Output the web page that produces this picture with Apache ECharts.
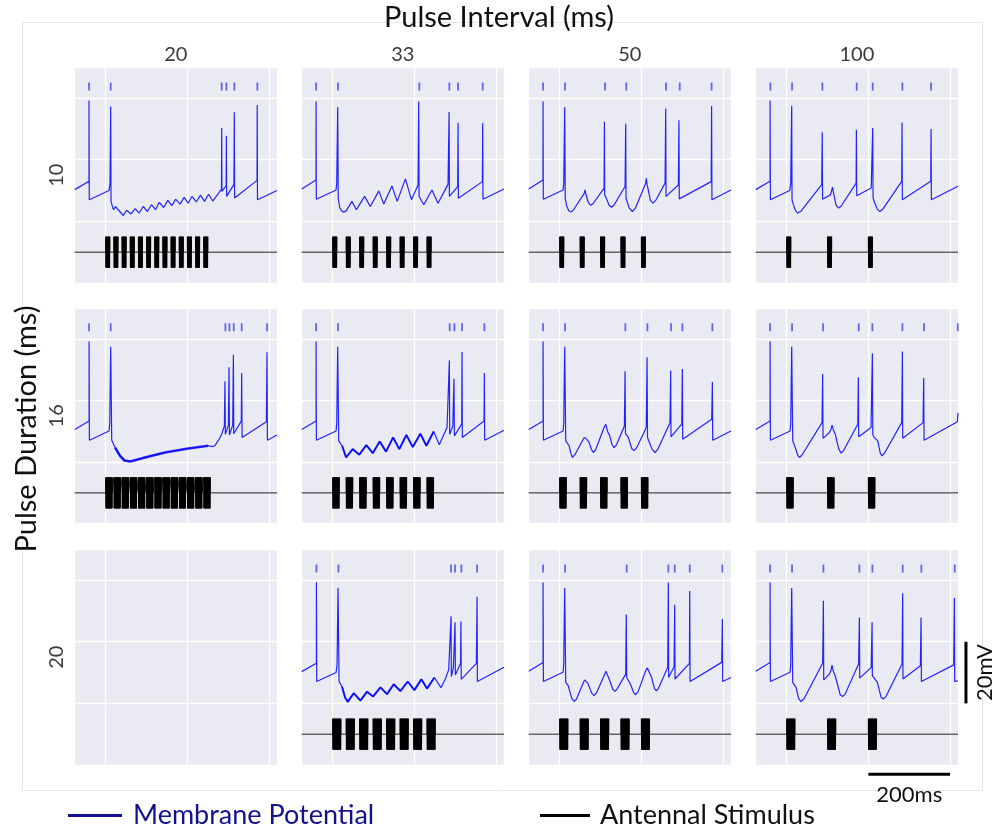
<!DOCTYPE html>
<html><head><meta charset="utf-8">
<script src="https://cdn.jsdelivr.net/npm/echarts@6/dist/echarts.min.js"></script>
<style>html,body{margin:0;padding:0;background:#fff}#c{width:1008px;height:831px}</style>
</head><body><div id="c"></div><script>
// ---- Stimulus design (columns = pulse interval, rows = pulse duration) ----
const pulseIntervals = [20, 33, 50, 100];   // ms
const pulseDurations = [10, 16, 20];        // ms
const pulseCounts = [13, 8, 5, 3];
const colTitles = ['20', '33', '50', '100'];
const rowTitles = ['10', '16', '20'];
const stimBaseline = -50, stimAmplitude = 5, stimStep = 0.5;

// ---- Membrane potential traces [time ms, mV] ----
const vm_d10_i20 = [[-76,-29.7],[-41,-27],[-41,-0.8],[-40.3,-33],[8,-30],[10.5,-27.8],[12.2,-2.7],[13,-33.5],[15,-34.5],[19,-36.2],[24,-35.2],[28.5,-35.9],[43,-38.1],[51,-36.4],[62,-37.6],[72,-35.9],[82,-37.3],[92,-35.1],[102,-36.8],[112,-34.6],[122,-36.2],[131,-33.8],[142,-35.5],[152,-33.2],[162,-34.9],[171,-32.8],[182,-34.4],[192,-32.2],[202,-34.1],[211,-31.9],[222,-33.7],[232,-31.5],[242,-33.5],[252,-31.2],[262,-33.4],[278,-30.6],[283.5,-29.5],[284,-9.7],[284.6,-30.3],[295,-28.4],[295.5,-12.2],[296.2,-31.9],[314,-28],[315,-4.6],[315.7,-32.4],[370.6,-26.7],[371,-2.2],[371.7,-33],[419.5,-30]];
const vm_d10_i33 = [[-76,-29.5],[-41,-26.6],[-40.8,-1.1],[-40.2,-32.8],[8.2,-29.8],[9.8,-27.6],[12.2,-2.9],[13.5,-32.5],[17,-35.5],[22,-36.6],[27,-37],[33,-36.6],[47,-33.5],[58,-36.2],[78,-31.9],[92,-35.2],[113,-30.1],[125,-34.4],[145,-28.5],[158,-33.5],[178,-26.2],[193,-33],[209,-28.2],[210.6,-1.1],[211.5,-31.9],[223,-34.6],[243,-29.8],[258,-34.1],[282.4,-28],[285,-4.5],[285.8,-31.9],[306,-28.7],[307,-8],[307.8,-32.5],[366.5,-27.1],[367.3,-8.1],[368,-32.8],[419.5,-29.5]];
const vm_d10_i50 = [[-76,-29.5],[-41,-26.6],[-40.8,-1.1],[-40.2,-32.8],[8.2,-29.8],[9.8,-27.6],[12.2,-2.9],[13.5,-32.6],[17,-35],[22,-36.5],[27,-37],[33,-36.4],[60,-30.9],[62,-29.8],[64,-31.2],[70,-33.8],[76,-34.8],[82,-34.2],[108.6,-29.2],[109.4,-7.7],[110.2,-31.4],[114,-32.5],[121,-34.8],[127,-35.4],[133,-34.7],[160,-28.7],[161.6,-8.3],[162.4,-32.5],[170,-35.6],[178,-36.8],[185,-35.8],[210.6,-27.6],[212,-26],[214,-28],[222,-33.2],[228.6,-34.1],[235,-33.2],[258,-27.6],[259.6,-3.4],[260.4,-31.9],[290.6,-28.2],[292,-7.2],[292.8,-32.7],[371,-27.1],[372,-2.6],[372.8,-33],[419.5,-29.8]];
const vm_d10_i100 = [[-76,-29.7],[-40.8,-27],[-40.8,-0.8],[-40,-33],[7.3,-30],[9.8,-27.6],[12.2,-2.5],[13,-33],[16,-34.5],[21,-36.4],[27,-37.3],[34,-36.8],[85.7,-28.1],[87,-11.1],[87.8,-32.8],[107,-31.4],[110,-30],[112,-28.9],[115,-31],[121,-34.8],[127,-35.7],[133,-35.1],[170,-27.6],[170.6,-10.3],[171.4,-31.7],[207,-29.2],[210.6,-9.7],[211.5,-32.4],[214,-33.5],[222,-36.1],[228,-36.8],[235,-36.1],[281.6,-27],[282.4,-7.9],[283.2,-33],[352.7,-27],[353.5,-10],[354.3,-33],[419.5,-28.6]];
const vm_d16_i20 = [[-76,-29.4],[-40.8,-26.7],[-40.8,-0.9],[-40,-32.9],[8.2,-29.9],[9.8,-27.5],[12.2,-2.6],[14.7,-32.9],[23,-35.3],[35,-38],[46,-39.5],[60,-39.8],[96,-38.5],[145,-36.9],[202,-35.6],[251,-34.7],[262,-35],[268,-34.6],[278,-32.5],[284,-31],[290.6,-28.3],[292,-13.8],[293,-31],[300.4,-28],[302,-9.2],[303,-31.2],[311,-28],[312.7,-5.2],[313.6,-30.8],[332,-26.7],[333,-11.1],[334,-32],[393.5,-26.9],[395,-4.4],[396,-32.9],[419.5,-31.2]];
const vm_d16_i33 = [[-76,-29.4],[-40.8,-26.7],[-40.8,-0.9],[-40,-32.9],[8.2,-29.9],[9.8,-27.5],[12.2,-2.6],[14.7,-33.1],[23,-34.7],[32.7,-38.5],[49,-35.8],[65,-37.6],[82.4,-34.5],[98,-37.1],[115,-33.3],[130.6,-36.6],[147.8,-32],[163,-35.8],[180.4,-31.2],[196,-35.1],[214.7,-30.8],[229.4,-34.7],[247.3,-30.1],[261,-34.4],[280,-28.8],[285.7,-7],[286.5,-31],[294,-28.3],[297,-13],[298,-31.5],[315.9,-27.7],[316.7,-4.3],[317.5,-32],[370.6,-26.7],[371.4,-11.1],[372.2,-32.9],[419.5,-29.7]];
const vm_d16_i50 = [[-76,-29.4],[-40.8,-26.7],[-40.8,-0.9],[-40,-32.9],[8.2,-29.9],[9.8,-27.5],[12.2,-2.6],[14.7,-33.1],[23,-34.7],[27,-37],[31,-38.5],[37,-37.6],[60,-32],[62,-31.5],[66,-32.5],[72,-33.7],[78,-36],[82.4,-36.9],[88,-36],[108.6,-28.8],[112.7,-27.7],[117,-30],[122.4,-31.5],[128,-34.3],[133,-35.3],[139,-34.4],[158.4,-28.3],[160,-10.5],[161,-30.8],[168,-32],[176,-35.5],[182,-36.3],[188,-35.4],[209,-29.7],[212,-28.5],[213.9,-6],[215,-32],[226,-35.8],[233.5,-36.9],[240,-35.9],[270,-27.2],[271.8,-10.3],[272.5,-31.8],[298.8,-27.7],[300.4,-9.8],[301.2,-32.6],[372.2,-26.1],[373.9,-14],[374.7,-32.9],[419.5,-29.9]];
const vm_d16_i100 = [[-76,-29.4],[-40.8,-26.7],[-40.8,-0.9],[-40,-32.9],[8.2,-29.9],[9.8,-27.5],[12.2,-2.6],[14.7,-33.1],[21,-35.3],[27,-37.8],[31,-38.5],[37,-37.8],[86.5,-27.2],[88,-11.4],[89,-32.3],[104.5,-30.4],[108,-29.5],[111,-28],[114,-29.5],[119,-31],[127,-35.6],[133,-37.1],[139,-36.3],[174,-27.7],[175.5,-12.5],[176.3,-31.8],[206.5,-28.8],[209.8,-4.8],[210.8,-31],[213,-31.8],[223,-33.1],[229,-37],[233.5,-38],[239,-37.2],[281.6,-27.2],[283.3,-4.1],[284.1,-32.3],[333.9,-27.2],[335.5,-12.7],[336.3,-32.9],[418,-26.9],[419.5,-24]];
const vm_d20_i33 = [[-76,-29.7],[-40,-27],[-40,-0.7],[-39.2,-32.9],[8.2,-30],[10.6,-27.5],[13,-2.5],[15.5,-32.9],[22.9,-34.6],[30,-38],[36.7,-39.5],[51.4,-36.7],[67.8,-39.1],[84,-36.2],[98.8,-37.8],[116.7,-34.8],[133,-37],[149.4,-33.8],[165.7,-36],[183.7,-32.9],[200,-35.7],[217,-32.2],[231,-35.2],[249,-31.6],[265,-34.9],[276,-32],[284,-29.1],[289.8,-11.7],[290.6,-31.3],[295.5,-28.5],[299.6,-13.7],[300.4,-30.8],[313,-27],[314,-13.4],[314.8,-32.2],[351.8,-27],[353.5,-5.4],[354.3,-32.9],[419.5,-28.3]];
const vm_d20_i50 = [[-76,-29.6],[-40.8,-26.7],[-40.8,-0.8],[-40,-32.9],[8.2,-29.9],[9.8,-27.4],[12.2,-2.6],[14.7,-33.2],[21,-34.3],[29,-38.2],[35,-39.4],[41,-38.6],[58,-33.2],[61,-32.4],[69,-33.5],[78,-36.6],[84,-37.5],[90,-36.6],[111,-30.3],[113,-29.6],[122,-32.4],[130,-35.4],[135.5,-36.1],[141,-35.2],[161.6,-30.5],[163,-11.2],[164,-31.6],[173,-33.7],[181,-36.5],[186,-37.2],[192,-36.2],[210.6,-29.4],[214.7,-28.5],[225,-31.6],[232,-35.2],[236.7,-35.9],[242,-35.1],[264.5,-28.3],[266,-0.8],[266.8,-31.6],[280,-28.1],[281.6,-8],[282.4,-32.1],[317.6,-27],[318.4,-3.5],[319.2,-32.9],[396.7,-26.7],[398.4,-12.6],[399.2,-32.9],[419.5,-31.6]];
const vm_d20_i100 = [[-76,-29.6],[-40.8,-26.7],[-40.8,-0.8],[-40,-32.9],[8.2,-29.9],[9.8,-27.4],[12.2,-2.6],[14.7,-33.2],[23,-34.9],[29,-38.4],[35,-39.4],[42,-38.6],[88,-27],[89.8,-6.7],[90.6,-32.4],[104.5,-30.5],[108,-29.5],[111,-27.6],[114,-29.5],[119,-31.2],[131,-37.2],[137,-37.8],[143,-37],[176,-27.2],[178,-12.1],[178.8,-31.8],[207,-28.3],[209,-13.7],[209.8,-31],[213,-31.6],[222,-33.2],[231,-38],[236.7,-38.6],[243,-37.8],[282.4,-27.2],[284,-4.3],[284.8,-32.1],[327.3,-27.8],[329,-12.1],[329.8,-32.9],[409,-27.5],[410.6,-5.8],[411.4,-32.9],[419.5,-32.7]];

// ---- Spike times (ms) shown as raster ticks ----
const spk_d10_i20 = [-40.8, 12.2, 284, 295.5, 315, 371.4];
const spk_d10_i33 = [-40.8, 13, 212.2, 285.7, 307, 367.3];
const spk_d10_i50 = [-40.8, 13, 111, 163, 260.4, 294, 372];
const spk_d10_i100 = [-40, 13, 87.3, 171.4, 210.6, 283.3, 353.5];
const spk_d16_i20 = [-40.8, 12.2, 293, 302.9, 313.5, 333, 395];
const spk_d16_i33 = [-40.8, 13, 286.5, 298, 316.7, 371.4];
const spk_d16_i50 = [-40.8, 13, 160.8, 214.7, 272.7, 300.4, 373.9];
const spk_d16_i100 = [-40.8, 13, 89, 176.3, 209.8, 283.3, 336.3, 419];
const spk_d20_i33 = [-40, 13.9, 289.8, 299.6, 315.1, 353.5];
const spk_d20_i50 = [-40.8, 13, 164, 266, 281.6, 318.4, 398.4];
const spk_d20_i100 = [-40.8, 13, 89.8, 178, 209.8, 284, 329.8, 411.4];
const rasterLevel = 3.75;

// ---- tables built from the arrays ----
const traces = [
  [vm_d10_i20, vm_d10_i33, vm_d10_i50, vm_d10_i100],
  [vm_d16_i20, vm_d16_i33, vm_d16_i50, vm_d16_i100],
  [null, vm_d20_i33, vm_d20_i50, vm_d20_i100]
];
const spikes = [
  [spk_d10_i20, spk_d10_i33, spk_d10_i50, spk_d10_i100],
  [spk_d16_i20, spk_d16_i33, spk_d16_i50, spk_d16_i100],
  [null, spk_d20_i33, spk_d20_i50, spk_d20_i100]
];
// line width of the jittery (stimulus-driven) part of each trace
const jitterWidth = [[0, 0, 0, 0], [2.6, 2.0, 0, 0], [0, 2.0, 0, 0]];

function stimulus(interval, duration, count) {
  const pts = [[-76, stimBaseline]];
  for (let p = 0; p < count; p++) {
    const s = p * interval;
    pts.push([s, stimBaseline]);
    let k = 0;
    for (let t = s; t <= s + duration + 1e-9; t += stimStep, k++) {
      pts.push([t, stimBaseline + (k % 2 === 0 ? stimAmplitude : -stimAmplitude)]);
    }
    pts.push([s + duration, stimBaseline]);
  }
  pts.push([419.5, stimBaseline]);
  return pts;
}

// ---- layout ----
const FONT = 'Lato';
const colLeft = [74.7, 301.7, 528.7, 755.7];
const rowTop = [67.3, 308, 549.3];
const panelW = 202.3, panelH = 215.7;
const grids = [], xAxes = [], yAxes = [], series = [];
for (let r = 0; r < 3; r++) {
  for (let c = 0; c < 4; c++) {
    const i = grids.length;
    grids.push({left: colLeft[c], top: rowTop[r], width: panelW, height: panelH, show: true,
      backgroundColor: '#eaeaf2', borderWidth: 0, containLabel: false});
    const common = {gridIndex: i, type: 'value', axisLine: {show: false}, axisTick: {show: false},
      axisLabel: {show: false}, splitLine: {show: true, lineStyle: {color: '#ffffff', width: 1.3}}};
    xAxes.push(Object.assign({min: -76, max: 419.5, minInterval: 200, maxInterval: 200}, common));
    yAxes.push(Object.assign({min: -60, max: 10, minInterval: 20, maxInterval: 20}, common));
    if (!traces[r][c]) continue;
    const stimEnd = (pulseCounts[c] - 1) * pulseIntervals[c] + pulseDurations[r];
    series.push({name: 'Antennal Stimulus', type: 'line', xAxisIndex: i, yAxisIndex: i, showSymbol: false,
      silent: true, animation: false, data: stimulus(pulseIntervals[c], pulseDurations[r], pulseCounts[c]),
      lineStyle: {color: '#000', width: 1, opacity: 0.85}, itemStyle: {color: '#000'}, z: 3});
    series.push({name: 'Membrane Potential', type: 'line', xAxisIndex: i, yAxisIndex: i, showSymbol: false,
      silent: true, animation: false, data: traces[r][c],
      lineStyle: {color: '#0000ff', width: 1.2, opacity: 0.85}, itemStyle: {color: '#0000ff'}, z: 4});
    if (jitterWidth[r][c] > 0) {
      series.push({name: 'jitter', type: 'line', xAxisIndex: i, yAxisIndex: i, showSymbol: false,
        silent: true, animation: false, data: traces[r][c].filter(p => p[0] >= 20 && p[0] <= stimEnd + 4),
        lineStyle: {color: '#0000ff', width: jitterWidth[r][c], opacity: 0.8}, z: 4});
    }
    series.push({name: 'spikes', type: 'scatter', xAxisIndex: i, yAxisIndex: i, silent: true, animation: false,
      symbol: 'rect', symbolSize: [1.8, 8], data: spikes[r][c].map(t => [t, rasterLevel]),
      itemStyle: {color: 'rgba(0,0,255,0.72)'}, z: 4});
  }
}

const texts = [];
texts.push({type: 'rect', shape: {x: 22.5, y: 22.5, width: 960, height: 768}, style: {fill: 'none', stroke: '#e8e8e8', lineWidth: 1}, silent: true});
texts.push({type: 'text', x: 499, y: 18, style: {text: 'Pulse Interval (ms)', font: '29px ' + FONT, fill: '#111', textAlign: 'center', textVerticalAlign: 'middle'}});
texts.push({type: 'text', x: 27, y: 429, rotation: Math.PI / 2, style: {text: 'Pulse Duration (ms)', font: '29px ' + FONT, fill: '#111', textAlign: 'center', textVerticalAlign: 'middle'}});
colTitles.forEach((t, c) => texts.push({type: 'text', x: colLeft[c] + panelW / 2, y: 55,
  style: {text: t, font: '20px ' + FONT, fill: '#3a3a3a', textAlign: 'center', textVerticalAlign: 'middle'}}));
rowTitles.forEach((t, r) => texts.push({type: 'text', x: 57, y: rowTop[r] + panelH / 2, rotation: Math.PI / 2,
  style: {text: t, font: '20px ' + FONT, fill: '#3a3a3a', textAlign: 'center', textVerticalAlign: 'middle'}}));

const chart = echarts.init(document.getElementById('c'), null, {renderer: 'canvas'});
chart.setOption({
  animation: false,
  backgroundColor: '#ffffff',
  grid: grids, xAxis: xAxes, yAxis: yAxes, series: series,
  legend: [
    {left: 68, top: 802, padding: 0, data: ['Membrane Potential'], icon: 'rect', itemWidth: 54, itemHeight: 3,
      itemStyle: {color: '#12128f'}, selectedMode: false,
      textStyle: {color: '#12128f', fontSize: 27, fontFamily: FONT, padding: [0, 0, 0, 6]}},
    {left: 540, top: 802, padding: 0, data: ['Antennal Stimulus'], icon: 'rect', itemWidth: 50, itemHeight: 3,
      itemStyle: {color: '#000'}, selectedMode: false,
      textStyle: {color: '#111', fontSize: 27, fontFamily: FONT, padding: [0, 0, 0, 5]}}
  ],
  graphic: texts
});

// scale bars placed in data units of the bottom-right panel
const last = 11;
const p1 = chart.convertToPixel({gridIndex: last}, [439, -20]);
const p2 = chart.convertToPixel({gridIndex: last}, [439, -40]);
const h1 = chart.convertToPixel({gridIndex: last}, [200, -63]);
const h2 = chart.convertToPixel({gridIndex: last}, [400, -63]);
chart.setOption({graphic: texts.concat([
  {type: 'line', shape: {x1: p1[0], y1: p1[1], x2: p2[0], y2: p2[1]}, style: {stroke: '#000', lineWidth: 3}},
  {type: 'text', x: p1[0] + 19, y: (p1[1] + p2[1]) / 2, rotation: Math.PI / 2,
    style: {text: '20mV', font: '22px ' + FONT, fill: '#111', textAlign: 'center', textVerticalAlign: 'middle'}},
  {type: 'line', shape: {x1: h1[0], y1: h1[1], x2: h2[0], y2: h2[1]}, style: {stroke: '#000', lineWidth: 3}},
  {type: 'text', x: (h1[0] + h2[0]) / 2, y: h1[1] + 21,
    style: {text: '200ms', font: '22px ' + FONT, fill: '#111', textAlign: 'center', textVerticalAlign: 'middle'}}
])});
</script></body></html>
